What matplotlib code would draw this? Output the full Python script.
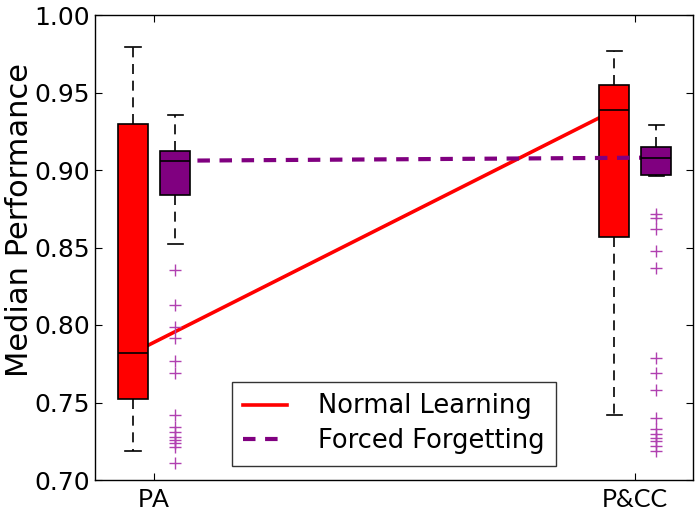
import matplotlib
matplotlib.use("Agg")
import matplotlib.pyplot as plt

categories = ["PA", "P&CC"]

# Normal Learning box stats (whislo, q1, med, q3, whishi)
normal_whislo = [0.719, 0.742]
normal_q1 = [0.752, 0.857]
normal_med = [0.782, 0.9385]
normal_q3 = [0.930, 0.9546]
normal_whishi = [0.9796, 0.977]

# Forced Forgetting box stats
forced_whislo = [0.852, 0.896]
forced_q1 = [0.884, 0.897]
forced_med = [0.906, 0.908]
forced_q3 = [0.9125, 0.9146]
forced_whishi = [0.9355, 0.929]

forced_fliers_pa = [0.8355, 0.813, 0.7985, 0.7914, 0.777, 0.769, 0.742,
                    0.734, 0.731, 0.728, 0.726, 0.724, 0.7215, 0.711]
forced_fliers_pcc = [0.8716, 0.869, 0.862, 0.848, 0.837, 0.779, 0.769, 0.758,
                     0.740, 0.733, 0.730, 0.727, 0.725, 0.722, 0.719]

positions = [1, 2]
offset = 0.044
box_w = 0.0625

fig = plt.figure(figsize=(7.0, 5.11), dpi=100)
ax = fig.add_axes([95/700, 1 - 480/511, 598/700, 465/511])

def make_stats(lo, q1, med, q3, hi, fl):
    return [dict(whislo=lo[i], q1=q1[i], med=med[i], q3=q3[i], whishi=hi[i], fliers=fl[i])
            for i in range(len(lo))]

normal_stats = make_stats(normal_whislo, normal_q1, normal_med, normal_q3, normal_whishi, [[], []])
forced_stats = make_stats(forced_whislo, forced_q1, forced_med, forced_q3, forced_whishi,
                          [forced_fliers_pa, forced_fliers_pcc])

npos = [p - offset for p in positions]
fpos = [p + offset for p in positions]

common = dict(widths=box_w, patch_artist=True,
              whiskerprops=dict(color="black", linestyle=(0, (6, 4)), linewidth=1.2),
              capprops=dict(color="black", linewidth=1.2),
              medianprops=dict(color="black", linewidth=1.2))

# red median line below red boxes
ax.plot(npos, normal_med, color="#ff0000", linewidth=2.6, zorder=1, label="Normal Learning")
ax.bxp(normal_stats, positions=npos,
       boxprops=dict(facecolor="#ff0000", edgecolor="black", linewidth=1.2),
       flierprops=dict(marker="+", markeredgecolor="#aa33aa", markersize=8),
       manage_ticks=False, zorder=2, **common)
ax.plot(fpos, forced_med, color="#800080", linewidth=3.0, dashes=(3, 2.3), zorder=3,
        label="Forced Forgetting")
ax.bxp(forced_stats, positions=fpos,
       boxprops=dict(facecolor="#800080", edgecolor="black", linewidth=1.2),
       flierprops=dict(marker="+", markeredgecolor="#b040b0", markersize=8, markeredgewidth=1.0),
       manage_ticks=False, zorder=4, **common)

ax.set_xlim(0.877, 2.12)
ax.set_ylim(0.70, 1.00)
ax.set_yticks([0.70, 0.75, 0.80, 0.85, 0.90, 0.95, 1.00])
ax.set_yticklabels([f"{v:.2f}" for v in [0.70, 0.75, 0.80, 0.85, 0.90, 0.95, 1.00]], fontsize=18)
ax.set_xticks(positions)
ax.set_xticklabels(categories, fontsize=18, family=["Lato", "DejaVu Sans"])
ax.tick_params(direction="in", length=5, top=True, right=True, width=0.8)
ax.tick_params(axis="x", pad=6)
ax.set_ylabel("Median Performance", fontsize=22, labelpad=0)
ax.yaxis.label.set_y(0.56)

leg = ax.legend(loc="lower center", bbox_to_anchor=(0.5, 0.03), fontsize=18.5,
                frameon=True, fancybox=False, handlelength=1.7, borderpad=0.45,
                labelspacing=0.35, handletextpad=1.2, borderaxespad=0)
leg.get_frame().set_edgecolor("black")
leg.get_frame().set_linewidth(1.0)

for s in ax.spines.values():
    s.set_linewidth(1.0)

fig.savefig("out.png", dpi=100)
